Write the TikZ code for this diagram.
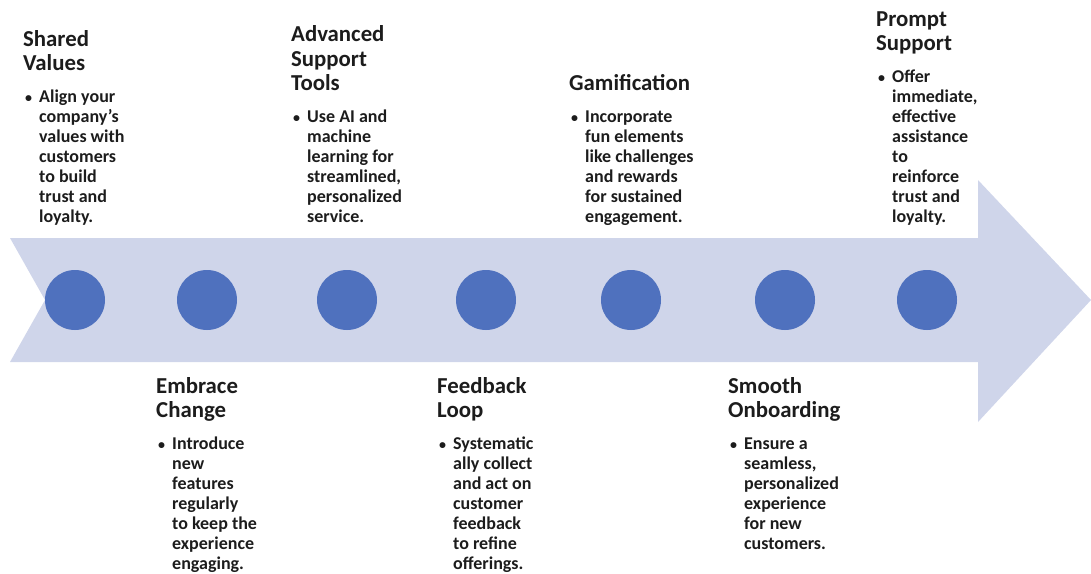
\documentclass[tikz,border=0pt]{standalone}
\usepackage{fontspec}
\setmainfont{Carlito}

\definecolor{shaftblue}{HTML}{CFD5EA}
\definecolor{dotblue}{HTML}{4F71BE}
\definecolor{inkgray}{HTML}{1C1C1C}

% one text block: title lines, then one bullet with its lines
\newcommand{\blockbody}[2]{\hsize=220pt\parindent=0pt\bfseries
	\fontsize{22.8pt}{24.5pt}\selectfont #1\par
	\vskip 11.5pt
	\fontsize{18pt}{20pt}\selectfont
	\hangindent=16pt\hangafter=1
	\noindent\hspace{2pt}\makebox[14pt][l]{\fontsize{14pt}{14pt}\selectfont\textbullet}#2\par}
\newcommand{\upperblock}[2]{\vbox{\blockbody{#1}{#2}}}
\newcommand{\lowerblock}[2]{\vtop{\blockbody{#1}{#2}}}

\begin{document}
\begin{tikzpicture}[x=1pt,y=-1pt]
	\newcommand{\mycolor}{shaftblue}
	\newcommand{\mydotcolor}{dotblue}
	\newcommand{\mytextcolor}{inkgray}

		\def\frame{(0,0) rectangle (1091,573)}
		\def\shaft{(10,238) -- (978,238) -- (978,180) -- (1091,300) -- (978,422) -- (978,362) -- (10,362) -- (45,300) -- cycle}

		\useasboundingbox \frame;
		\fill[\mycolor] \shaft;

		\foreach \x [count=\i] in {75,207,347,486,631,785,927}
			\node[circle,fill=\mydotcolor,inner sep=0pt,minimum size=60pt] (dot\i) at (\x,300) {};

		\begin{scope}[every node/.style={anchor=base west,inner sep=0pt,text=\mytextcolor}]
			\node (shared) at (23,222) {\upperblock{Shared\\Values}{Align your\\company’s\\values with\\customers\\to build\\trust and\\loyalty.}};
			\node (tools) at (291,222) {\upperblock{Advanced\\Support\\Tools}{Use AI and\\machine\\learning for\\streamlined,\\personalized\\service.}};
			\node (game) at (569,222) {\upperblock{Gamification}{Incorporate\\fun elements\\like challenges\\and rewards\\for sustained\\engagement.}};
			\node (prompt) at (876,222) {\upperblock{Prompt\\Support}{Offer\\immediate,\\effective\\assistance\\to\\reinforce\\trust and\\loyalty.}};
			\node (change) at (156,393) {\lowerblock{Embrace\\Change}{Introduce\\new\\features\\regularly\\to keep the\\experience\\engaging.}};
			\node (loop) at (437,393) {\lowerblock{Feedback\\Loop}{Systematic\\ally collect\\and act on\\customer\\feedback\\to refine\\offerings.}};
			\node (onboard) at (728,393) {\lowerblock{Smooth\\Onboarding}{Ensure a\\seamless,\\personalized\\experience\\for new\\customers.}};
		\end{scope}
	\end{tikzpicture}
\end{document}
